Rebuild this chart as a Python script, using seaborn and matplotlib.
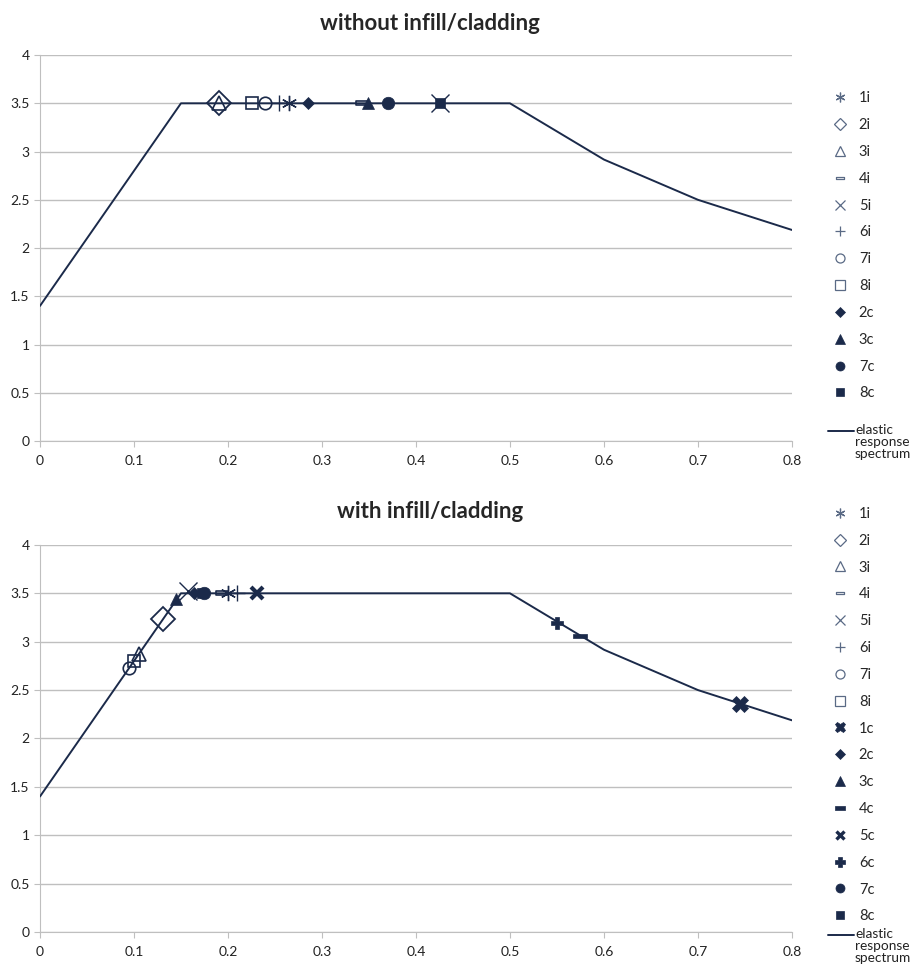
import numpy as np
import matplotlib
matplotlib.use('Agg')
import matplotlib.pyplot as plt
from matplotlib.lines import Line2D
import seaborn as sns
import pandas as pd
from matplotlib.path import Path

sns.set_style('white')
plt.rcParams['font.family'] = ['Lato', 'DejaVu Sans']

navy = '#1b2a4a'
grid_c = '#bfbfbf'

# elastic response spectrum
spec_T = [0.0, 0.15, 0.5, 0.6, 0.7, 0.8]
spec_Sa = [1.4, 3.5, 3.5, 2.917, 2.5, 2.1875]

# without infill/cladding
top_names = ['1i', '2i', '3i', '4i', '5i', '6i', '7i', '8i', '2c', '3c', '7c', '8c']
top_T = [0.265, 0.190, 0.190, 0.343, 0.4255, 0.254, 0.239, 0.2255, 0.285, 0.349, 0.370, 0.4255]
top_Sa = [3.5, 3.5, 3.5, 3.5, 3.5, 3.5, 3.5, 3.5, 3.5, 3.5, 3.5, 3.5]

# with infill/cladding
bot_names = ['1i', '2i', '3i', '4i', '5i', '6i', '7i', '8i',
             '1c', '2c', '3c', '4c', '5c', '6c', '7c', '8c']
bot_T = [0.200, 0.131, 0.105, 0.194, 0.157, 0.210, 0.095, 0.100,
         0.745, 0.164, 0.145, 0.575, 0.231, 0.550, 0.175, 0.172]
bot_Sa = [3.5, 3.235, 2.87, 3.5, 3.52, 3.5, 2.73, 2.80,
          2.357, 3.5, 3.44, 3.06, 3.5, 3.19, 3.5, 3.5]

dash = Path([(-1, -0.35), (1, -0.35), (1, 0.35), (-1, 0.35), (-1, -0.35)],
            [Path.MOVETO, Path.LINETO, Path.LINETO, Path.LINETO, Path.CLOSEPOLY])

# marker style per series: (marker, size, filled, edge width)
styles = {
    '1i': ((6, 2, 0), 11, False, 1.0),
    '2i': ('D', 12, False, 1.3),
    '3i': ('^', 10, False, 1.2),
    '4i': (dash, 9, False, 1.2),
    '5i': ('x', 13, False, 1.0),
    '6i': ('+', 11, False, 1.0),
    '7i': ('o', 9, False, 1.2),
    '8i': ('s', 9, False, 1.2),
    '1c': ('X', 11, True, 0.5),
    '2c': ('D', 6.5, True, 0.5),
    '3c': ('^', 9, True, 0.5),
    '4c': (dash, 10, True, 0.5),
    '5c': ('x', 8, False, 3.0),
    '6c': ('P', 9, True, 0.5),
    '7c': ('o', 9, True, 0.5),
    '8c': ('s', 7.5, True, 0.5),
}
leg_sizes = {'1i': 7, '2i': 6, '3i': 7, '4i': 6, '5i': 7.5, '6i': 7.5, '7i': 6.5,
             '8i': 6.5, '1c': 7.5, '2c': 5.5, '3c': 6.5, '4c': 7, '5c': 6,
             '6c': 6.5, '7c': 6.5, '8c': 5.5}
leg_grey = '#5a6a85'

W, H = 917, 971
fig = plt.figure(figsize=(W / 100, H / 100), dpi=100)
ax_top = fig.add_axes([0.0436, 0.5458, 0.820, 0.3975])
ax_bot = fig.add_axes([0.0436, 0.0402, 0.820, 0.3986])


def draw_panel(ax, names, T, Sa):
    handles = []
    for n, t, s in zip(names, T, Sa):
        m, ms, filled, mew = styles[n]
        ax.plot([t], [s], linestyle='none', marker=m, markersize=ms,
                markeredgewidth=mew, color=navy,
                markerfacecolor=navy if filled else 'none',
                markeredgecolor=navy, zorder=3)
        ec = navy if filled or n == '5c' else leg_grey
        lw_leg = 2.4 if n == '5c' else (mew if filled else 0.9)
        handles.append(Line2D([], [], linestyle='none', marker=m,
                              markersize=leg_sizes[n], markeredgewidth=lw_leg,
                              markerfacecolor=navy if filled else 'none',
                              markeredgecolor=ec, label=n))
    spec = pd.DataFrame({'T': spec_T, 'Sa': spec_Sa})
    sns.lineplot(data=spec, x='T', y='Sa', ax=ax, color=navy, lw=1.4,
                 sort=False, zorder=4, legend=False)
    ax.set_xlim(0, 0.8)
    ax.set_ylim(0, 4)
    ax.set_xticks(np.arange(0, 0.81, 0.1))
    ax.set_xticklabels(['0', '0.1', '0.2', '0.3', '0.4', '0.5', '0.6', '0.7', '0.8'])
    ax.set_yticks(np.arange(0, 4.01, 0.5))
    ax.set_yticklabels(['0', '0.5', '1', '1.5', '2', '2.5', '3', '3.5', '4'])
    ax.yaxis.grid(True, color=grid_c, lw=1)
    ax.xaxis.grid(False)
    for sp in ['top', 'right']:
        ax.spines[sp].set_visible(False)
    for sp in ['left', 'bottom']:
        ax.spines[sp].set_color(grid_c)
    ax.tick_params(axis='both', direction='out', length=4, color=grid_c,
                   labelsize=10, labelcolor='#222222', bottom=True, left=True)
    ax.tick_params(axis='x', pad=6)
    ax.set_xlabel('')
    ax.set_ylabel('')
    return handles


h_top = draw_panel(ax_top, top_names, top_T, top_Sa)
h_bot = draw_panel(ax_bot, bot_names, bot_T, bot_Sa)

leg_kw = dict(loc='upper left', frameon=False, fontsize=10.5,
              handlelength=2.2, handletextpad=0.2, labelspacing=0.88,
              borderaxespad=0)
fig.legend(handles=h_top, bbox_to_anchor=(0.892, 0.912), **leg_kw)
fig.legend(handles=h_bot, bbox_to_anchor=(0.892, 0.484), **leg_kw)

# legend entry for the spectrum line (Excel puts it below the markers)
for y_line in [431, 935]:
    fig.add_artist(Line2D([828 / W, 854 / W], [1 - y_line / H] * 2,
                          color=navy, lw=1.4))
    fig.text(855 / W, 1 - (y_line - 7) / H, 'elastic\nresponse\nspectrum',
             ha='left', va='top', fontsize=9.8, linespacing=1.02, color='#222222')

fig.text(0.469, 1 - 23 / H, 'without infill/cladding', ha='center', va='center',
         fontsize=16, fontweight='bold')
fig.text(0.469, 1 - 512 / H, 'with infill/cladding', ha='center', va='center',
         fontsize=16, fontweight='bold')

fig.savefig('out.png', dpi=100)
